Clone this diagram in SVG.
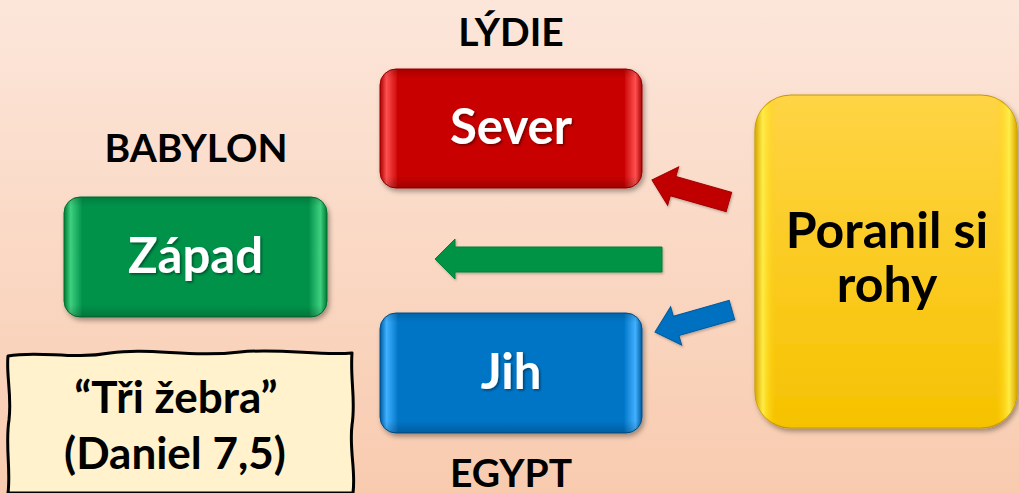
<svg xmlns="http://www.w3.org/2000/svg" width="1019" height="493" viewBox="0 0 1019 493">
<defs>
<linearGradient id="bg" x1="0" y1="0" x2="0" y2="1">
<stop offset="0" stop-color="#FCE6DA"/>
<stop offset="1" stop-color="#F8CBAF"/>
</linearGradient>
<linearGradient id="gRed" x1="0" y1="0" x2="1" y2="0">
<stop offset="0" stop-color="#A80000"/>
<stop offset="0.025" stop-color="#FF5050"/>
<stop offset="0.07" stop-color="#C80000"/>
<stop offset="0.93" stop-color="#C80000"/>
<stop offset="0.975" stop-color="#FF5050"/>
<stop offset="1" stop-color="#A80000"/>
</linearGradient>
<linearGradient id="gGreen" x1="0" y1="0" x2="1" y2="0">
<stop offset="0" stop-color="#007A33"/>
<stop offset="0.025" stop-color="#3FD080"/>
<stop offset="0.07" stop-color="#00924A"/>
<stop offset="0.93" stop-color="#00924A"/>
<stop offset="0.975" stop-color="#3FD080"/>
<stop offset="1" stop-color="#007A33"/>
</linearGradient>
<linearGradient id="gBlue" x1="0" y1="0" x2="1" y2="0">
<stop offset="0" stop-color="#005A9E"/>
<stop offset="0.025" stop-color="#40B0FF"/>
<stop offset="0.07" stop-color="#0075C6"/>
<stop offset="0.93" stop-color="#0075C6"/>
<stop offset="0.975" stop-color="#40B0FF"/>
<stop offset="1" stop-color="#005A9E"/>
</linearGradient>
<linearGradient id="gYelV" x1="0" y1="0" x2="0" y2="1">
<stop offset="0" stop-color="#FFD445"/>
<stop offset="1" stop-color="#F6C200"/>
</linearGradient>
<linearGradient id="gYelH" x1="0" y1="0" x2="1" y2="0">
<stop offset="0" stop-color="#D9A400" stop-opacity="1"/>
<stop offset="0.03" stop-color="#FFF04A" stop-opacity="0.9"/>
<stop offset="0.08" stop-color="#FFD000" stop-opacity="0"/>
<stop offset="0.92" stop-color="#FFD000" stop-opacity="0"/>
<stop offset="0.97" stop-color="#FFF04A" stop-opacity="0.9"/>
<stop offset="1" stop-color="#D9A400" stop-opacity="1"/>
</linearGradient>
<linearGradient id="shadeV" x1="0" y1="0" x2="0" y2="1">
<stop offset="0" stop-color="#000" stop-opacity="0.15"/>
<stop offset="0.08" stop-color="#000" stop-opacity="0"/>
<stop offset="0.9" stop-color="#000" stop-opacity="0"/>
<stop offset="1" stop-color="#000" stop-opacity="0.2"/>
</linearGradient>
<filter id="sh" x="-10%" y="-10%" width="125%" height="130%">
<feDropShadow dx="2" dy="3" stdDeviation="2.5" flood-color="#000" flood-opacity="0.35"/>
</filter>
<filter id="tsh" x="-10%" y="-10%" width="130%" height="130%">
<feDropShadow dx="1.5" dy="1.5" stdDeviation="1" flood-color="#000" flood-opacity="0.45"/>
</filter>
<filter id="ash" x="-10%" y="-20%" width="130%" height="150%">
<feDropShadow dx="1" dy="1.5" stdDeviation="1" flood-color="#000" flood-opacity="0.25"/>
</filter>
</defs>
<style>
.lbl{font-family:Lato,"Liberation Sans",sans-serif;font-weight:bold;font-size:39px;fill:#000;text-anchor:middle}
.btn{font-family:Lato,"Liberation Sans",sans-serif;font-weight:bold;font-size:49px;fill:#fff;text-anchor:middle}
.big{font-family:Lato,"Liberation Sans",sans-serif;font-weight:bold;font-size:50px;fill:#000;text-anchor:middle}
.scr{font-family:Lato,"Liberation Sans",sans-serif;font-weight:bold;font-size:44px;fill:#000;text-anchor:middle}
.arr{stroke-width:1;stroke-linejoin:miter}
</style>
<rect width="1019" height="493" fill="url(#bg)"/>

<g id="label-lydie"><text class="lbl" x="511" y="46">LÝDIE</text></g>
<g id="label-babylon"><text class="lbl" x="196" y="162">BABYLON</text></g>
<g id="label-egypt"><text class="lbl" x="511" y="487">EGYPT</text></g>

<g id="node-sever" filter="url(#sh)">
<rect x="380" y="69" width="262" height="119" rx="16" fill="url(#gRed)" stroke="#9A0000" stroke-width="1"/>
<rect x="380" y="69" width="262" height="119" rx="16" fill="url(#shadeV)"/>
<text class="btn" x="511" y="144" filter="url(#tsh)">Sever</text>
</g>

<g id="node-zapad" filter="url(#sh)">
<rect x="64" y="197" width="263" height="120" rx="16" fill="url(#gGreen)" stroke="#00702F" stroke-width="1"/>
<rect x="64" y="197" width="263" height="120" rx="16" fill="url(#shadeV)"/>
<text class="btn" x="195.5" y="273" filter="url(#tsh)">Západ</text>
</g>

<g id="node-jih" filter="url(#sh)">
<rect x="380" y="313" width="262" height="120" rx="16" fill="url(#gBlue)" stroke="#00508F" stroke-width="1"/>
<rect x="380" y="313" width="262" height="120" rx="16" fill="url(#shadeV)"/>
<text class="btn" x="511" y="389" filter="url(#tsh)">Jih</text>
</g>

<g id="node-poranil" filter="url(#sh)">
<rect x="755" y="95" width="262" height="333" rx="36" fill="url(#gYelV)" stroke="#C89A00" stroke-width="1.2"/>
<rect x="755" y="95" width="262" height="333" rx="36" fill="url(#gYelH)"/>
<text class="big" x="887" y="248"><tspan x="887" y="248">Poranil si</tspan><tspan x="887" y="302">rohy</tspan></text>
</g>

<g id="node-note">
<path d="M8,356 C40,350 70,360 110,353 C150,347 190,358 240,352 C280,348 320,356 352,353 C350,380 356,400 352,425 C349,450 356,470 353,493 L8,493 C11,470 5,445 9,420 C12,395 6,375 8,356 Z" fill="#FFF2CC" stroke="#000" stroke-width="3" stroke-linejoin="round"/>
<text class="scr" x="176" y="413">“Tři žebra”</text>
<text class="scr" x="175" y="469">(Daniel 7,5)</text>
</g>

<g id="connectors" filter="url(#ash)">
<path class="arr" d="M435,259 L455,239 L455,247 L662,247 L662,272 L455,272 L455,279 Z" fill="#009245" stroke="#00803A"/>
<path class="arr" transform="translate(652,180) rotate(16)" d="M0,0 L22,-20 L22,-10 L80,-10 L80,10 L22,10 L22,20 Z" fill="#C00000" stroke="#A00000"/>
<path class="arr" transform="translate(655,332) rotate(-16)" d="M0,0 L22,-20 L22,-10 L80,-10 L80,10 L22,10 L22,20 Z" fill="#0070C0" stroke="#005A9E"/>
</g>
</svg>
